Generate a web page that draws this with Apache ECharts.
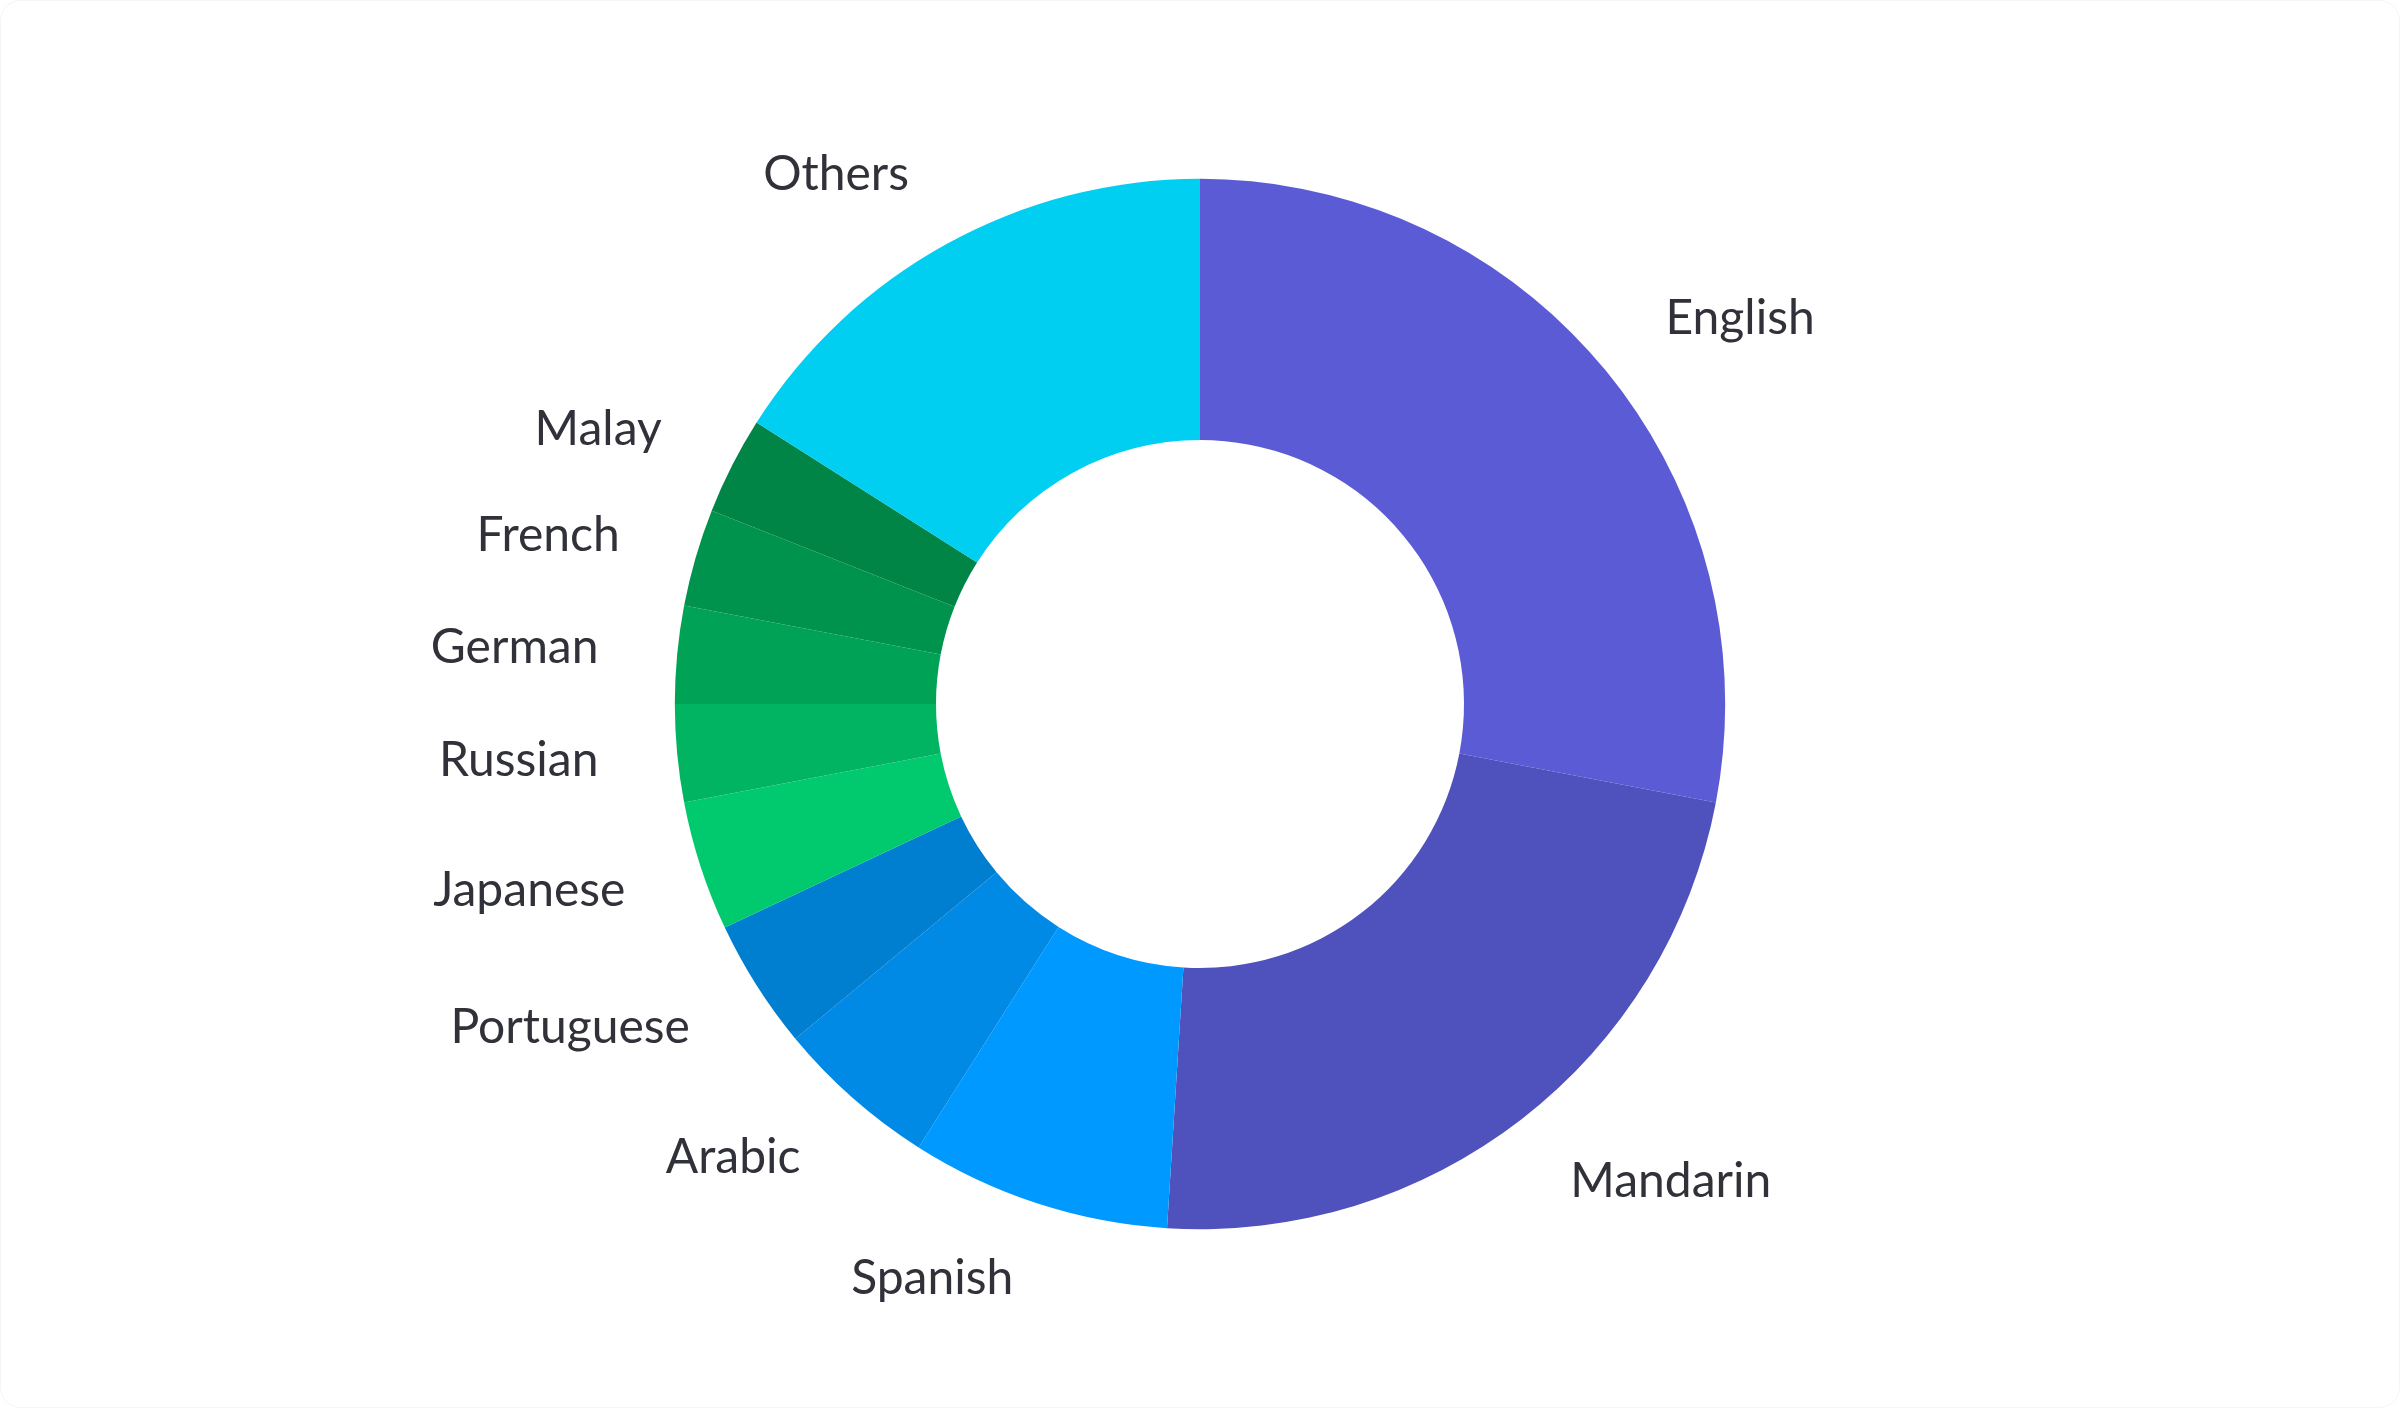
<!DOCTYPE html>
<html>
<head>
<meta charset="utf-8">
<script src="https://cdn.jsdelivr.net/npm/echarts@6/dist/echarts.min.js"></script>
<style>
  html, body { margin: 0; padding: 0; background: #ffffff; }
  #chart { width: 2400px; height: 1408px; }
</style>
</head>
<body>
<div id="chart"></div>
<script>
const languages = ['English', 'Mandarin', 'Spanish', 'Arabic', 'Portuguese', 'Japanese', 'Russian', 'German', 'French', 'Malay', 'Others'];
const shares = [28, 23, 8, 5, 4, 4, 3, 3, 3, 3, 16];
const sliceColors = ['#5B5BD6', '#4F51BD', '#0099FF', '#008AE6', '#007ECF', '#00C96E', '#00B462', '#00A256', '#00934E', '#008547', '#00CFF2'];

const chart = echarts.init(document.getElementById('chart'), null, { renderer: 'canvas' });
chart.setOption({
  backgroundColor: '#ffffff',
  animation: false,
  color: sliceColors,
  graphic: [{
    type: 'rect',
    shape: { x: 0.5, y: 0.5, width: 2399, height: 1407, r: 20 },
    style: { fill: 'none', stroke: '#f4f4f4', lineWidth: 1 },
    silent: true,
    z: -1
  }],
  series: [{
    type: 'pie',
    center: ['50%', '50%'],
    radius: ['37.5%', '74.6%'],
    startAngle: 90,
    clockwise: true,
    avoidLabelOverlap: false,
    itemStyle: { borderWidth: 0 },
    label: {
      show: true,
      position: 'outside',
      formatter: '{b}',
      fontFamily: 'Lato, "Noto Sans", sans-serif',
      fontSize: 48,
      color: '#303139',
      distanceToLabelLine: 0
    },
    labelLine: { show: false, length: 79, length2: 0 },
    emphasis: { disabled: true },
    data: languages.map((name, i) => ({ name: name, value: shares[i] }))
  }]
});
</script>
</body>
</html>
